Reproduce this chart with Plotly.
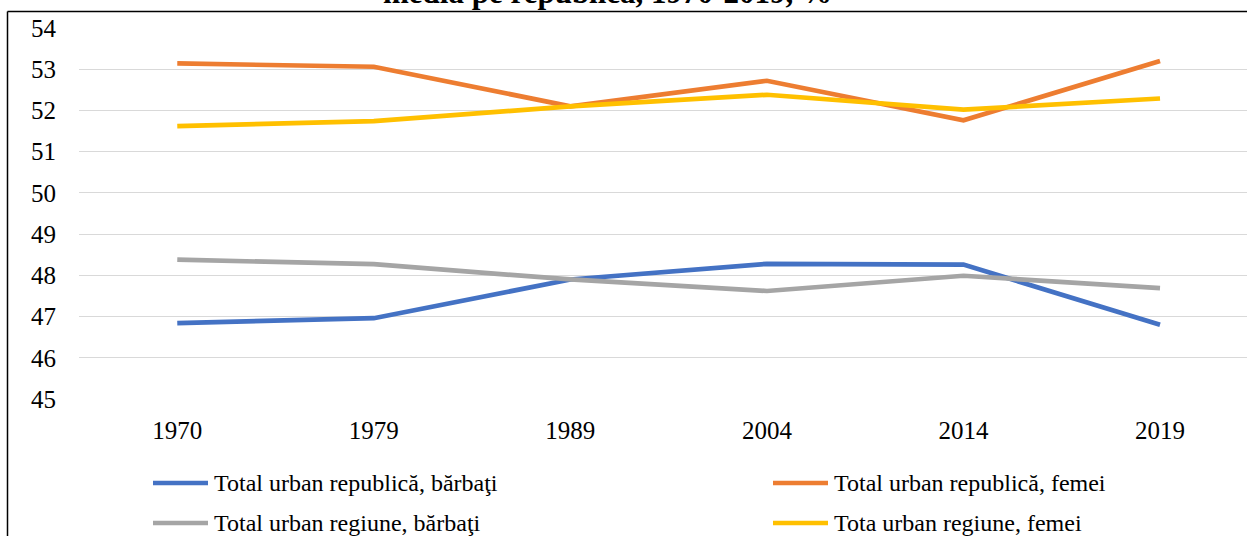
import plotly.graph_objects as go

# Census years and urban population shares (%) by sex
years = ["1970", "1979", "1989", "2004", "2014", "2019"]
rep_barbati = [46.84, 46.96, 47.90, 48.28, 48.26, 46.80]
rep_femei = [53.14, 53.06, 52.10, 52.72, 51.76, 53.20]
reg_barbati = [48.38, 48.27, 47.90, 47.62, 47.99, 47.69]
reg_femei = [51.62, 51.74, 52.10, 52.38, 52.02, 52.29]

series_names = [
    "Total urban republică, bărbaţi",
    "Total urban republică, femei",
    "Total urban regiune, bărbaţi",
    "Tota urban regiune, femei",
]
series_values = [rep_barbati, rep_femei, reg_barbati, reg_femei]
series_colors = ["#4472C4", "#ED7D31", "#A5A5A5", "#FFC000"]

title_text = "media pe republică, 1970-2019, %"

W, H = 1247, 536
L, R, T, B = 79, 0, 28, 137
PW, PH = W - L - R, H - T - B
SERIF = "Liberation Serif, Times New Roman, serif"


def px(xp):
    return (xp - L) / PW


def py(yp):
    return (H - B - yp) / PH


fig = go.Figure()
for name, vals, col in zip(series_names, series_values, series_colors):
    fig.add_trace(go.Scatter(
        x=years, y=vals, mode="lines", name=name,
        line=dict(color=col, width=4.7), showlegend=False,
    ))

# Hand-placed legend: two rows, two columns
legend_pos = [(153, 483), (773, 483), (153, 523), (773, 523)]
shapes = []
annotations = []
for (lx, ly), name, col in zip(legend_pos, series_names, series_colors):
    shapes.append(dict(type="line", xref="paper", yref="paper",
                       x0=px(lx), x1=px(lx + 55), y0=py(ly), y1=py(ly),
                       line=dict(color=col, width=4.7)))
    annotations.append(dict(text=name, xref="paper", yref="paper",
                            x=px(lx + 59), y=py(ly), xanchor="left", yanchor="middle",
                            showarrow=False, font=dict(family=SERIF, size=24, color="#000")))

# Chart frame (top and left edges)
shapes.append(dict(type="line", xref="paper", yref="paper",
                   x0=px(7.5), x1=px(W + 5), y0=py(11.5), y1=py(11.5),
                   line=dict(color="#000", width=1.5)))
shapes.append(dict(type="line", xref="paper", yref="paper",
                   x0=px(7.5), x1=px(7.5), y0=py(11.5), y1=py(H + 5),
                   line=dict(color="#000", width=1.5)))

# Title (last line)
annotations.append(dict(text="<b>" + title_text + "</b>", xref="paper", yref="paper",
                        x=px(607), y=py(5), xanchor="center", yanchor="bottom",
                        yshift=-7, showarrow=False,
                        font=dict(family=SERIF, size=31, color="#000")))

fig.update_layout(
    width=W, height=H,
    margin=dict(l=L, r=R, t=T, b=B, pad=0),
    paper_bgcolor="white", plot_bgcolor="white",
    shapes=shapes, annotations=annotations,
    xaxis=dict(type="category", range=[-0.5, (W - 177) / 196.6],
               showgrid=False, zeroline=False, showline=False, ticks="",
               tickfont=dict(family=SERIF, size=25, color="#000"),
               ticklabelstandoff=14),
    yaxis=dict(range=[45, 54], dtick=1, showgrid=True, gridcolor="#D9D9D9",
               gridwidth=1.3, zeroline=False, showline=False, ticks="",
               tickfont=dict(family=SERIF, size=25, color="#000"),
               ticklabelstandoff=22),
)

fig.write_html("out.html")
